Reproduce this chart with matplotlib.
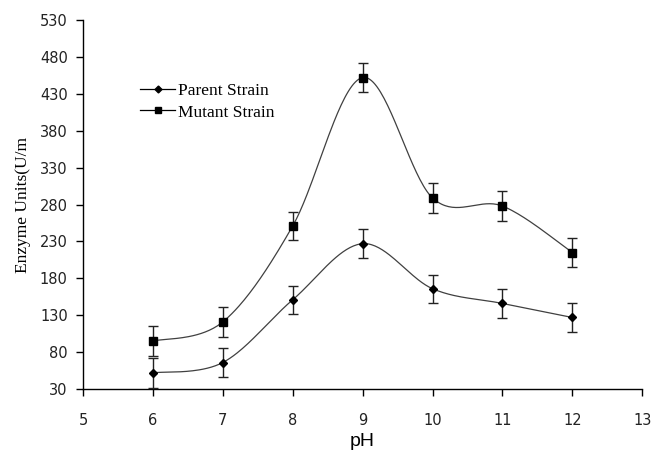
import numpy as np
import matplotlib
matplotlib.use("Agg")
import matplotlib.pyplot as plt

ph = [6, 7, 8, 9, 10, 11, 12]
parent = [52, 66, 151, 227, 166, 146, 127]
parent_err = [20, 19, 19, 20, 19, 20, 20]
mutant = [95, 121, 251, 452, 289, 278, 215]
mutant_err = [20, 20, 19, 20, 20, 20, 20]
xticks = [5, 6, 7, 8, 9, 10, 11, 12, 13]
yticks = [30, 80, 130, 180, 230, 280, 330, 380, 430, 480, 530]


def smooth(x, y, n=40):
    x = np.asarray(x, float); y = np.asarray(y, float)
    px = np.concatenate([[x[0]], x, [x[-1]]])
    py = np.concatenate([[y[0]], y, [y[-1]]])
    xs, ys = [], []
    for i in range(1, len(px) - 2):
        p0 = np.array([px[i], py[i]]); p3 = np.array([px[i + 1], py[i + 1]])
        p1 = p0 + (np.array([px[i + 1], py[i + 1]]) - np.array([px[i - 1], py[i - 1]])) / 6
        p2 = p3 - (np.array([px[i + 2], py[i + 2]]) - np.array([px[i], py[i]])) / 6
        t = np.linspace(0, 1, n)[:, None]
        b = (1 - t) ** 3 * p0 + 3 * (1 - t) ** 2 * t * p1 + 3 * (1 - t) * t ** 2 * p2 + t ** 3 * p3
        xs.append(b[:, 0]); ys.append(b[:, 1])
    return np.concatenate(xs), np.concatenate(ys)


fig = plt.figure(figsize=(6.51, 4.61), dpi=100)
ax = fig.add_axes([0.1275, 0.156, 0.859, 0.8006])

line_col = "#404040"
for yv, err, mk, ms, lab in [(parent, parent_err, "D", 4.5, "Parent Strain"),
                             (mutant, mutant_err, "s", 5.5, "Mutant Strain")]:
    sx, sy = smooth(ph, yv)
    ax.plot(sx, sy, color=line_col, lw=0.9, zorder=2)
    ax.errorbar(ph, yv, yerr=err, fmt="none", ecolor="#222222", elinewidth=1.0,
                capsize=3.3, capthick=1.0, zorder=3)
    ax.plot(ph, yv, linestyle="none", marker=mk, markersize=ms, color="black", zorder=4)
    ax.plot([], [], color="black", lw=0.9, marker=mk, markersize=ms - 1, label=lab)

ax.set_xlim(5, 13)
ax.set_ylim(30, 530)
ax.set_xticks(xticks)
ax.set_yticks(yticks)
ax.spines["top"].set_visible(False)
ax.spines["right"].set_visible(False)
for s in ["left", "bottom"]:
    ax.spines[s].set_linewidth(1.0)
    ax.spines[s].set_color("black")
ax.tick_params(axis="both", direction="out", length=5, width=1, labelsize=10.5,
               colors="black", pad=6)
for lbl in ax.get_xticklabels() + ax.get_yticklabels():
    lbl.set_fontfamily("DejaVu Sans")
    lbl.set_color("#222222")
ax.tick_params(axis="x", pad=12)

ax.set_xlabel("pH", fontsize=14, family="Liberation Sans", labelpad=4)
ax.set_ylabel("Enzyme Units(U/m", fontsize=12.5, family="Liberation Serif", labelpad=6)

leg = ax.legend(loc="upper left", bbox_to_anchor=(0.09, 0.848), frameon=False,
                prop={"family": "Liberation Serif", "size": 12.5}, handlelength=2.0,
                handletextpad=0.2, labelspacing=0.3, borderaxespad=0)

fig.savefig("out.png", dpi=100)
